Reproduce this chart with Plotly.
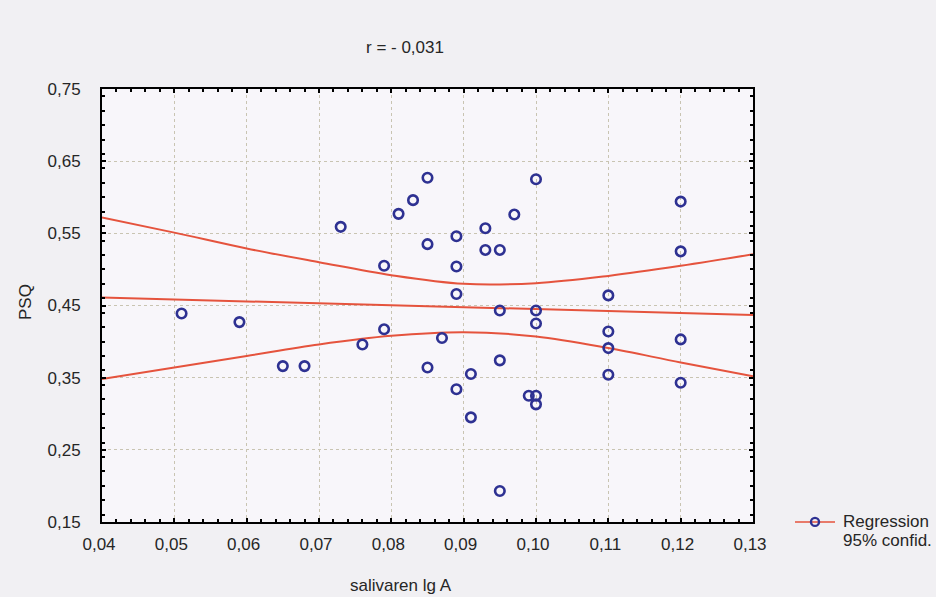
import plotly.graph_objects as go

# Observed points (salivaren lg A vs PSQ)
x_pts = [0.051, 0.059, 0.065, 0.068, 0.073, 0.076, 0.079, 0.079, 0.081, 0.083,
         0.085, 0.085, 0.085, 0.087, 0.089, 0.089, 0.089, 0.089, 0.091, 0.091,
         0.093, 0.093, 0.095, 0.095, 0.095, 0.095, 0.097, 0.099, 0.100, 0.100,
         0.100, 0.100, 0.100, 0.110, 0.110, 0.110, 0.110, 0.120, 0.120, 0.120,
         0.120]
y_pts = [0.439, 0.427, 0.366, 0.366, 0.559, 0.396, 0.505, 0.417, 0.577, 0.596,
         0.627, 0.535, 0.364, 0.405, 0.546, 0.504, 0.466, 0.334, 0.355, 0.295,
         0.557, 0.527, 0.527, 0.443, 0.374, 0.193, 0.576, 0.325, 0.625, 0.443,
         0.425, 0.325, 0.313, 0.464, 0.414, 0.391, 0.354, 0.594, 0.525, 0.403,
         0.343]

# Regression line (read at ends)
x_fit = [0.04, 0.13]
y_fit = [0.461, 0.437]

# 95% confidence band
x_band = [0.04, 0.05, 0.06, 0.07, 0.08, 0.09, 0.10, 0.11, 0.12, 0.13]
y_upper = [0.572, 0.551, 0.529, 0.510, 0.492, 0.480, 0.481, 0.491, 0.505, 0.521]
y_lower = [0.348, 0.364, 0.380, 0.396, 0.408, 0.413, 0.407, 0.391, 0.371, 0.352]

x_ticks = [0.04, 0.05, 0.06, 0.07, 0.08, 0.09, 0.10, 0.11, 0.12, 0.13]
y_ticks = [0.15, 0.25, 0.35, 0.45, 0.55, 0.65, 0.75]

legend_lines = ["Regression", "95% confid."]

RED = "#e5533d"
BLUE = "#2e3192"
TXT = "#262626"
FONT = "Liberation Sans, Arial, sans-serif"
FS = 17

fig = go.Figure()
fig.add_trace(go.Scatter(x=x_band, y=y_upper, mode="lines", line=dict(color=RED, width=2, shape="spline"),
                         showlegend=False, hoverinfo="skip"))
fig.add_trace(go.Scatter(x=x_band, y=y_lower, mode="lines", line=dict(color=RED, width=2, shape="spline"),
                         showlegend=False, hoverinfo="skip"))
fig.add_trace(go.Scatter(x=x_fit, y=y_fit, mode="lines", line=dict(color=RED, width=2),
                         showlegend=False, hoverinfo="skip"))
fig.add_trace(go.Scatter(x=x_pts, y=y_pts, mode="markers",
                         marker=dict(symbol="circle-open", size=9.5, color=BLUE, line=dict(width=2.6, color=BLUE)),
                         showlegend=False))
# legend symbol (text drawn as annotations)
fig.add_trace(go.Scatter(x=[None], y=[None], mode="lines+markers", name=" ",
                         line=dict(color=RED, width=1.5),
                         marker=dict(symbol="circle-open", size=8, color=BLUE, line=dict(width=2.4, color=BLUE))))

axis_common = dict(
    showline=True, linecolor="black", linewidth=2, mirror="ticks",
    ticks="inside", ticklen=4, tickcolor="black", tickwidth=1.5,
    showgrid=True, gridcolor="#c9c4b2", griddash="dot", gridwidth=1,
    zeroline=False, tickfont=dict(size=FS, color=TXT, family=FONT),
    minor=dict(ticks="inside", ticklen=3, tickcolor="black", showgrid=False),
)

fig.update_xaxes(range=[0.04, 0.13], tickvals=x_ticks, tickformat=".2f",
                 minor_dtick=0.002, ticklabelstandoff=6, ticklabelshift=-3,
                 **axis_common)
fig.update_yaxes(range=[0.15, 0.75], tickvals=y_ticks, tickformat=".2f",
                 minor_dtick=0.02, ticklabelstandoff=16,
                 **axis_common)

PW, PH = 651, 433
def px(sx):
    return (sx - 102) / PW
def py(sy):
    return (522 - sy) / PH

fig.add_annotation(text="r = - 0,031", x=px(405), y=py(47), xref="paper", yref="paper",
                   showarrow=False, xanchor="center", yanchor="middle",
                   font=dict(size=FS, color=TXT, family=FONT))
fig.add_annotation(text="salivaren lg A", x=px(401), y=py(585), xref="paper", yref="paper",
                   showarrow=False, xanchor="center", yanchor="middle",
                   font=dict(size=FS, color=TXT, family=FONT))
fig.add_annotation(text="PSQ", x=px(25), y=py(302), xref="paper", yref="paper", textangle=-90,
                   showarrow=False, xanchor="center", yanchor="middle",
                   font=dict(size=FS, color=TXT, family=FONT))
for i, t in enumerate(legend_lines):
    fig.add_annotation(text=t, x=px(841), y=py(521 + 19.5 * i), xref="paper", yref="paper",
                       showarrow=False, xanchor="left", yanchor="middle",
                       font=dict(size=FS, color=TXT, family=FONT))

fig.update_layout(
    width=936, height=597,
    margin=dict(l=102, r=183, t=89, b=75),
    paper_bgcolor="#f1f0f3", plot_bgcolor="#f8f6fa",
    separators=", ",
    font=dict(family=FONT, size=FS, color=TXT),
    legend=dict(x=px(790), y=py(505), xanchor="left", yanchor="top", bgcolor="rgba(0,0,0,0)",
                valign="middle", tracegroupgap=0,
                font=dict(size=16, color=TXT, family=FONT), itemwidth=40),
)

fig.write_html("out.html", config={"displayModeBar": False},
               post_script="document.body.style.margin='0';document.body.style.overflow='hidden';")
